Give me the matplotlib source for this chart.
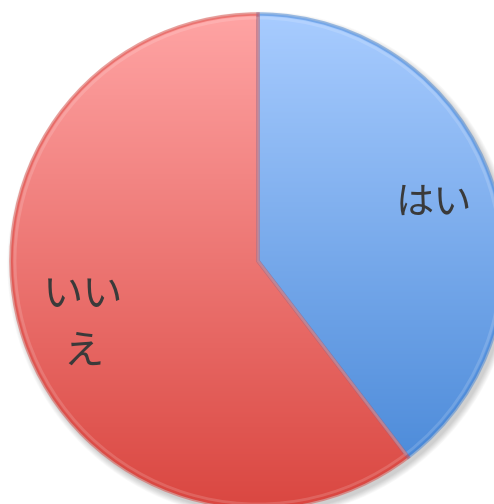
import numpy as np
import matplotlib.pyplot as plt
from matplotlib.colors import LinearSegmentedColormap
from matplotlib.patches import Circle, Wedge

plt.rcParams['font.family'] = ['Noto Sans CJK JP', 'DejaVu Sans']

labels = ['はい', 'いいえ']
values = [39.6, 60.4]
top_colors = ['#a8ccff', '#ffa4a4']
bottom_colors = ['#4485d6', '#da4741']

fig = plt.figure(figsize=(4.94, 5.04), dpi=100)
ax = fig.add_axes([0, 0, 1, 1])

cx, cy, r = 258, 261, 247

# soft shadow under the pie
for k in range(8):
    ax.add_patch(Circle((cx + 3, cy + 4), r + 1 + k * 0.8, color='black',
                        alpha=0.025, lw=0, zorder=0))

# y axis is inverted (pixel coords), so start at -90 and go counterclockwise in data
wedges, _ = ax.pie(values, startangle=-90, counterclock=True, center=(cx, cy),
                   radius=r, frame=True,
                   wedgeprops=dict(edgecolor='none', linewidth=0))

grad = np.linspace(0, 1, 256).reshape(-1, 1)
for w, c0, c1 in zip(wedges, top_colors, bottom_colors):
    w.set_facecolor('none')
    cmap = LinearSegmentedColormap.from_list('g', [c0, c1])
    im = ax.imshow(grad, cmap=cmap, aspect='auto', extent=(cx - r, cx + r, cy + r, cy - r),
                   origin='upper', zorder=1)
    im.set_clip_path(w)

# bevel-ish edges
for w, c1 in zip(wedges, bottom_colors):
    ax.add_patch(Wedge((cx, cy), r, w.theta1, w.theta2, facecolor='none',
                       edgecolor=c1, linewidth=2.5, alpha=0.5, zorder=2))
    ax.add_patch(Wedge((cx, cy), r - 4, w.theta1, w.theta2, facecolor='none',
                       edgecolor='white', linewidth=2, alpha=0.15, zorder=2))

ax.text(434, 203, labels[0], fontsize=27.5, color='#3a3a3a', ha='center', va='center',
        zorder=3)
ax.text(83, 324, 'いい\nえ', fontsize=29, color='#3a3a3a', ha='center', va='center',
        linespacing=1.5, zorder=3)

ax.set_xlim(0, 494)
ax.set_ylim(504, 0)
ax.set_aspect('auto')
ax.axis('off')

fig.savefig('out.png', dpi=100)
